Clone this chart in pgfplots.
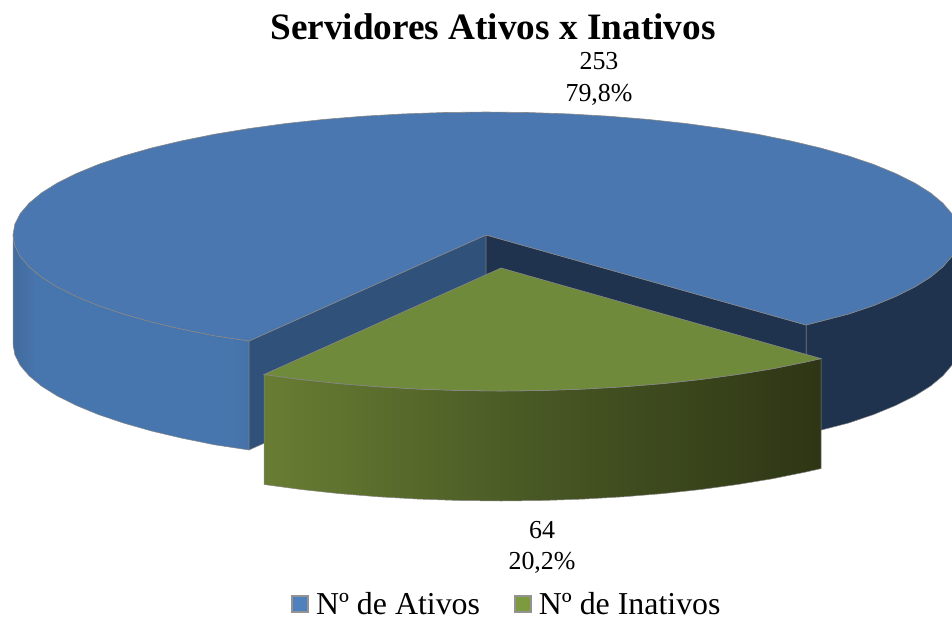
\documentclass[border=0pt]{standalone}
\usepackage{fontspec}
\setmainfont{Liberation Serif}
\usepackage{pgfplots}
\pgfplotsset{compat=1.18}
\definecolor{bluetop}{RGB}{74,119,175}
\definecolor{blueinL}{RGB}{48,81,122}
\definecolor{blueinR}{RGB}{31,51,78}
\definecolor{greentop}{RGB}{111,138,58}
\definecolor{edge}{RGB}{135,135,135}
\definecolor{legblue}{RGB}{79,129,189}
\definecolor{leggreen}{RGB}{125,155,62}
\pgfdeclarehorizontalshading{bluewallL}{100bp}{rgb(0bp)=(0.26,0.42,0.62); rgb(25bp)=(0.26,0.42,0.62); rgb(30bp)=(0.28,0.46,0.68); rgb(70bp)=(0.28,0.46,0.68); rgb(75bp)=(0.27,0.45,0.66); rgb(100bp)=(0.27,0.45,0.66)}
\pgfdeclarehorizontalshading{greenwall}{100bp}{rgb(0bp)=(0.41,0.49,0.20); rgb(25bp)=(0.41,0.49,0.20); rgb(50bp)=(0.28,0.34,0.14); rgb(75bp)=(0.18,0.21,0.08); rgb(100bp)=(0.18,0.21,0.08)}
\begin{document}
\begin{tikzpicture}
\useasboundingbox (0,0) rectangle (952bp,618bp);
\begin{axis}[
  at={(0,0)}, anchor=south west,
  scale only axis, width=952bp, height=618bp,
  xmin=0, xmax=952, ymin=0, ymax=618, y dir=reverse,
  hide axis, no markers,
  legend columns=2,
  legend cell align=left,
  legend style={at={(0.5325,0.0225)}, anchor=center, draw=none, fill=none,
    font=\fontsize{32}{32}\selectfont, inner sep=0pt, outer sep=0pt,
    /tikz/every odd column/.append style={column sep=5bp},
    /tikz/every even column/.append style={column sep=32bp}},
  legend image code/.code={
    \draw[#1, draw=gray!85, line width=1.8bp] (0bp,-8bp) rectangle (16bp,8bp);
  },
]
% left outer wall of the blue slice
\addplot[forget plot, draw=edge, line width=0.5bp, shading=bluewallL] coordinates {
 (13,235)(14.8,245.7)(20.2,256.4)(29.1,266.8)(41.5,277.1)(57.3,287)(76.4,296.5)(98.5,305.6)(123.7,314.1)(151.5,322)(182,329.2)(214.7,335.8)(249,341)
 (249,450)(214.7,444.8)(182,438.2)(151.5,431)(123.7,423.1)(98.5,414.6)(76.4,405.5)(57.3,396)(41.5,386.1)(29.1,375.8)(20.2,365.4)(14.8,354.7)(13,344)
} -- cycle;
% right outer wall of the blue slice
\addplot[forget plot, draw=edge, line width=0.5bp, fill=blueinR] coordinates {
 (806,325)(848.3,314.1)(873.5,305.6)(895.6,296.5)(914.7,287)(930.5,277.1)(942.9,266.8)(951.8,256.4)(957.2,245.7)(959,235)
 (959,344)(957.2,354.7)(951.8,365.4)(942.9,375.8)(930.5,386.1)(914.7,396)(895.6,405.5)(873.5,414.6)(848.3,423.1)(806,434)
} -- cycle;
% inner walls
\addplot[forget plot, draw=edge, line width=0.5bp, fill=blueinL] coordinates {(486,235)(249,341)(249,450)(486,344)} -- cycle;
\addplot[forget plot, draw=edge, line width=0.5bp, fill=blueinR] coordinates {(486,235)(806,325)(806,434)(486,344)} -- cycle;
% top of the blue slice (253)
\addplot[draw=edge, line width=0.6bp, fill=bluetop, legend image post style={fill=legblue}] coordinates {
 (806,325)(848.3,314.1)(873.5,305.6)(895.6,296.5)(914.7,287)(930.5,277.1)(942.9,266.8)(951.8,256.4)(957.2,245.7)(959,235)
 (957.2,224.3)(951.8,213.6)(942.9,203.2)(930.5,192.9)(914.7,183)(895.6,173.5)(873.5,164.4)(848.3,155.9)(820.5,148)(790,140.8)
 (757.3,134.2)(722.5,128.5)(685.9,123.5)(647.8,119.4)(608.4,116.2)(568.1,113.9)(527.2,112.5)(486,112)
 (444.8,112.5)(403.9,113.9)(363.6,116.2)(324.2,119.4)(286.1,123.5)(249.5,128.5)(214.7,134.2)(182,140.8)(151.5,148)(123.7,155.9)
 (98.5,164.4)(76.4,173.5)(57.3,183)(41.5,192.9)(29.1,203.2)(20.2,213.6)(14.8,224.3)(13,235)
 (14.8,245.7)(20.2,256.4)(29.1,266.8)(41.5,277.1)(57.3,287)(76.4,296.5)(98.5,305.6)(123.7,314.1)(151.5,322)(182,329.2)(214.7,335.8)(249,341)
 (486,235)
} -- cycle;
\addlegendentry{Nº de Ativos}
% front wall of the green slice
\addplot[forget plot, draw=edge, line width=0.5bp, shading=greenwall] coordinates {
 (264,374.5)(301.1,379.5)(339.2,383.6)(378.6,386.8)(418.9,389.1)(459.8,390.5)(501,391)(542.2,390.5)(583.1,389.1)(623.4,386.8)(662.8,383.6)(700.9,379.5)(737.5,374.5)(772.3,368.8)(805,362.2)(821,358.6)
 (821,468.6)(805,472.2)(772.3,478.8)(737.5,484.5)(700.9,489.5)(662.8,493.6)(623.4,496.8)(583.1,499.1)(542.2,500.5)(501,501)(459.8,500.5)(418.9,499.1)(378.6,496.8)(339.2,493.6)(301.1,489.5)(264,484.5)
} -- cycle;
% top of the green slice (64)
\addplot[draw=edge, line width=0.6bp, fill=greentop, legend image post style={fill=leggreen}] coordinates {
 (501,268)(264,374.5)(301.1,379.5)(339.2,383.6)(378.6,386.8)(418.9,389.1)(459.8,390.5)(501,391)(542.2,390.5)(583.1,389.1)(623.4,386.8)(662.8,383.6)(700.9,379.5)(737.5,374.5)(772.3,368.8)(805,362.2)(821,358.6)
} -- cycle;
\addlegendentry{Nº de Inativos}
\node[anchor=base, font=\fontsize{37.4}{37.4}\selectfont\bfseries] at (axis cs:493,40) {Servidores Ativos x Inativos};
\node[anchor=base, font=\fontsize{26}{26}\selectfont] at (axis cs:599,70) {253};
\node[anchor=base, font=\fontsize{26}{26}\selectfont] at (axis cs:599,101) {79,8\%};
\node[anchor=base, font=\fontsize{26}{26}\selectfont] at (axis cs:542,538) {64};
\node[anchor=base, font=\fontsize{26}{26}\selectfont] at (axis cs:542,569) {20,2\%};
\end{axis}
\end{tikzpicture}
\end{document}
